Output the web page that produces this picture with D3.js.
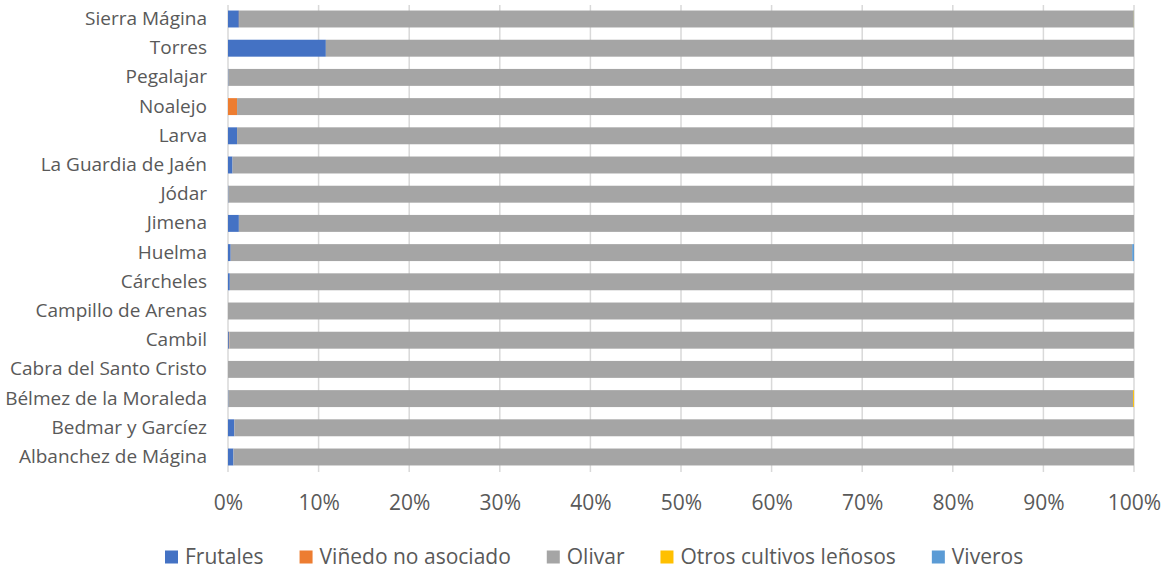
<!DOCTYPE html>
<html>
<head>
<meta charset="utf-8">
<script src="https://cdn.jsdelivr.net/npm/d3@7"></script>
<style>
  body { margin: 0; background: #fff; }
  text { font-family: "Open Sans", "Noto Sans", sans-serif; fill: #595959; }
</style>
</head>
<body>
<script>
;(function() {

  // categories, top to bottom as drawn
  var municipios = ["Sierra Mágina", "Torres", "Pegalajar", "Noalejo", "Larva",
    "La Guardia de Jaén", "Jódar", "Jimena", "Huelma", "Cárcheles",
    "Campillo de Arenas", "Cambil", "Cabra del Santo Cristo",
    "Bélmez de la Moraleda", "Bedmar y Garcíez", "Albanchez de Mágina"];

  var series = ["Frutales", "Viñedo no asociado", "Olivar", "Otros cultivos leñosos", "Viveros"];

  // percent values per series (same order as municipios)
  var frutales = [1.2, 10.8, 0.05, 0, 1.0, 0.5, 0.05, 1.2, 0.3, 0.2, 0, 0.1, 0, 0.05, 0.7, 0.6];
  var vinedo   = [0.02, 0, 0, 1.0, 0, 0, 0, 0, 0, 0, 0, 0.05, 0, 0, 0, 0];
  var olivar   = [98.74, 89.2, 99.95, 99.0, 99.0, 99.5, 99.95, 98.8, 99.5, 99.8, 100, 99.85, 100, 99.85, 99.3, 99.4];
  var otros    = [0.02, 0, 0, 0, 0, 0, 0, 0, 0, 0, 0, 0, 0, 0.1, 0, 0];
  var viveros  = [0.02, 0, 0, 0, 0, 0, 0, 0, 0.2, 0, 0, 0, 0, 0, 0, 0];

  var xTicks = [0, 10, 20, 30, 40, 50, 60, 70, 80, 90, 100];
  var colors = ["#4472C4", "#ED7D31", "#A5A5A5", "#FFC000", "#5B9BD5"];

  var width = 1168, height = 574;

  var rows = municipios.map(function(m, i) {
    return { name: m, "Frutales": frutales[i], "Viñedo no asociado": vinedo[i],
      "Olivar": olivar[i], "Otros cultivos leñosos": otros[i], "Viveros": viveros[i] };
  });

  var svg = d3.select("body").append("svg")
    .attr("width", width)
    .attr("height", height);

  var x = d3.scaleLinear().domain([0, 100]).range([228, 1134]);
  var y = d3.scaleBand().domain(municipios).range([4.4, 471.6])
    .paddingInner(0.42).paddingOuter(0.21);
  var color = d3.scaleOrdinal().domain(series).range(colors);

  // gridlines
  svg.append("g")
    .selectAll("line")
    .data(xTicks)
    .enter().append("line")
    .attr("x1", function(d) { return x(d); })
    .attr("x2", function(d) { return x(d); })
    .attr("y1", 5)
    .attr("y2", 472)
    .attr("stroke", "#d9d9d9")
    .attr("stroke-width", 1.5);

  // stacked bars (normalised to the row total)
  var stacked = d3.stack().keys(series).offset(d3.stackOffsetExpand)(rows);

  svg.append("g")
    .selectAll("g")
    .data(stacked)
    .enter().append("g")
    .attr("fill", function(d) { return color(d.key); })
    .selectAll("rect")
    .data(function(d) { return d; })
    .enter().append("rect")
    .attr("x", function(d) { return x(d[0] * 100); })
    .attr("width", function(d) { return x(d[1] * 100) - x(d[0] * 100); })
    .attr("y", function(d) { return y(d.data.name); })
    .attr("height", y.bandwidth());

  // category labels
  var yAxis = d3.axisLeft(y).tickSize(0).tickPadding(21);
  var gy = svg.append("g").attr("transform", "translate(228,0)").call(yAxis);
  gy.select(".domain").remove();
  gy.selectAll("text").style("font-size", "19px").attr("fill", "#595959");

  // x labels
  var xAxis = d3.axisBottom(x).tickValues(xTicks).tickSize(0).tickPadding(23)
    .tickFormat(function(d) { return d + "%"; });
  var gx = svg.append("g").attr("transform", "translate(0,472)").call(xAxis);
  gx.select(".domain").remove();
  gx.selectAll("text").style("font-size", "21px").attr("fill", "#595959");

  // legend
  var legend = svg.append("g").attr("transform", "translate(0,557)");
  var lx = 165;
  series.forEach(function(s) {
    legend.append("rect")
      .attr("x", lx).attr("y", -6.5)
      .attr("width", 13).attr("height", 13)
      .attr("fill", color(s));
    var t = legend.append("text")
      .attr("x", lx + 20).attr("y", 0)
      .attr("dy", "0.35em")
      .style("font-size", "21px")
      .text(s);
    lx = lx + 20 + t.node().getComputedTextLength() + 36;
  });

})();
</script>
</body>
</html>
